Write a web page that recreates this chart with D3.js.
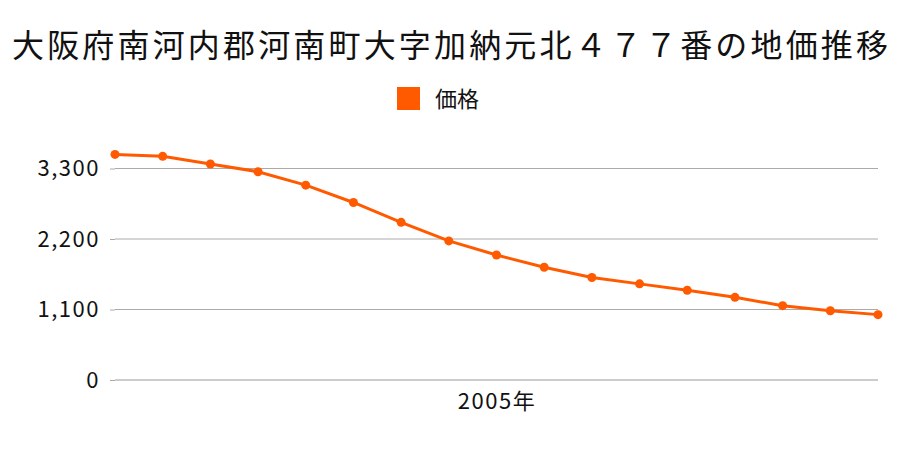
<!DOCTYPE html>
<html>
<head>
<meta charset="utf-8">
<script src="https://cdn.jsdelivr.net/npm/d3@7"></script>
<style>
  body { margin: 0; background: #fff; }
  text { font-family: "Noto Sans CJK JP", "Noto Sans", sans-serif; }
</style>
</head>
<body>
<div id="visContainer"></div>
<script>
const title = "大阪府南河内郡河南町大字加納元北４７７番の地価推移";
const seriesName = "価格";
const years = [1997, 1998, 1999, 2000, 2001, 2002, 2003, 2004, 2005,
  2006, 2007, 2008, 2009, 2010, 2011, 2012, 2013];
const prices = [3520, 3490, 3370, 3250, 3040, 2770, 2460, 2170, 1950,
  1760, 1600, 1500, 1400, 1290, 1160, 1080, 1020];
const yTicks = [0, 1100, 2200, 3300];
const xLabelYears = [2005];

const width = 900;
const height = 450;
const margin = { top: 168.5, right: 22, bottom: 70, left: 115 };
const color = "#ff5a00";

const svg = d3.select("#visContainer")
  .append("svg")
  .attr("width", width)
  .attr("height", height);

// title
svg.append("text")
  .attr("x", 12)
  .attr("y", 57)
  .attr("font-size", 32)
  .attr("textLength", 876)
  .attr("lengthAdjust", "spacing")
  .attr("fill", "#111")
  .text(title);

// legend
svg.append("rect")
  .attr("x", 397)
  .attr("y", 87)
  .attr("width", 23)
  .attr("height", 23)
  .attr("fill", color);
svg.append("text")
  .attr("x", 435)
  .attr("y", 107)
  .attr("font-size", 22)
  .attr("fill", "#111")
  .text(seriesName);

const x = d3.scalePoint()
  .domain(years)
  .range([margin.left, width - margin.right]);

const y = d3.scaleLinear()
  .domain([0, 3300])
  .range([height - margin.bottom, margin.top]);

// gridlines
svg.append("g")
  .selectAll("line")
  .data(yTicks)
  .join("line")
  .attr("x1", margin.left)
  .attr("x2", width - margin.right)
  .attr("y1", (d) => y(d))
  .attr("y2", (d) => y(d))
  .attr("stroke", (d) => d === 0 ? "#999" : "#aaa")
  .attr("stroke-width", 1);

// y axis
const yAxis = svg.append("g")
  .attr("transform", `translate(${margin.left}, 0)`)
  .call(d3.axisLeft(y).tickValues(yTicks).tickSize(5).tickPadding(10)
    .tickFormat(d3.format(",")));
yAxis.select(".domain").remove();
yAxis.selectAll(".tick line").attr("stroke", "#aaa");
yAxis.selectAll(".tick text")
  .attr("font-size", 22)
  .attr("letter-spacing", 1.5)
  .attr("fill", "#111")
  .attr("font-family", "\"Noto Sans CJK JP\", sans-serif");

// x axis labels
const xAxis = svg.append("g")
  .attr("transform", `translate(0, ${height - margin.bottom})`)
  .call(d3.axisBottom(x).tickValues(xLabelYears).tickSize(0).tickPadding(13)
    .tickFormat((d) => d + "年"));
xAxis.select(".domain").remove();
xAxis.selectAll(".tick text")
  .attr("font-size", 22)
  .attr("letter-spacing", 1.5)
  .attr("fill", "#111")
  .attr("font-family", "\"Noto Sans CJK JP\", sans-serif");

const data = years.map((yr, i) => ({ year: yr, value: prices[i] }));

// line
svg.append("path")
  .datum(data)
  .attr("fill", "none")
  .attr("stroke", color)
  .attr("stroke-width", 3)
  .attr("d", d3.line().x((d) => x(d.year)).y((d) => y(d.value)));

// markers
svg.append("g")
  .selectAll("circle")
  .data(data)
  .join("circle")
  .attr("cx", (d) => x(d.year))
  .attr("cy", (d) => y(d.value))
  .attr("r", 4.5)
  .attr("fill", color);
</script>
</body>
</html>
